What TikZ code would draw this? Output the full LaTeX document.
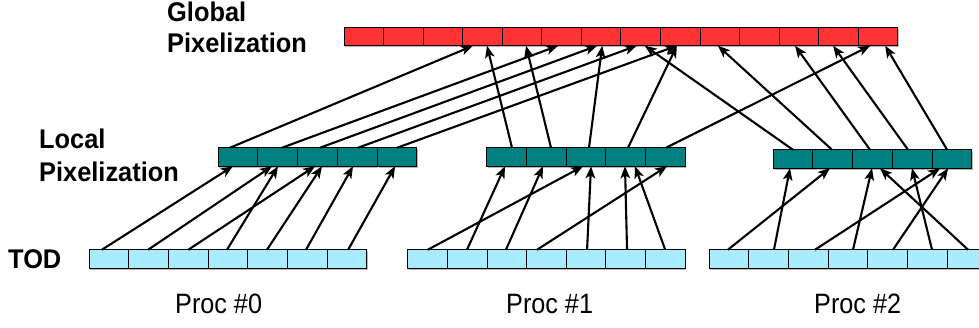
\documentclass[tikz,border=0pt]{standalone}
\usepackage{fontspec}
\setmainfont{Liberation Sans}
\newfontfamily\labfont[FakeStretch=0.94]{Liberation Sans}
\newfontfamily\procfont[FakeStretch=0.9]{Liberation Sans}
\usetikzlibrary{arrows.meta,shadows}

\definecolor{globred}{RGB}{255,51,51}
\definecolor{locteal}{RGB}{0,128,128}
\definecolor{todblue}{RGB}{170,236,255}

\tikzset{
  cellbase/.style={draw=black, line width=1pt, minimum height=18.5pt,
    inner sep=0pt, outer sep=0pt,
    drop shadow={shadow xshift=1.3pt, shadow yshift=-1.3pt, fill=gray!55, opacity=1}},
  gcell/.style={cellbase, fill=globred, minimum width=39.57pt},
  lcell/.style={cellbase, fill=locteal, minimum width=39.7pt},
  tcell/.style={cellbase, fill=todblue, minimum width=39.7pt},
  arr/.style={-{Stealth[length=12pt,width=9.5pt,inset=3pt]}, line width=2.1pt},
  boldlabel/.style={anchor=base west, inner sep=0pt,
    font=\labfont\bfseries\fontsize{27}{31}\selectfont},
  proclabel/.style={anchor=base west, inner sep=0pt,
    font=\procfont\fontsize{28}{31}\selectfont}
}

\begin{document}
\begin{tikzpicture}[x=1pt,y=-1pt]
\clip (0,0) rectangle (979,327);

% global pixel map
\foreach \i in {1,...,14}
  \node[gcell] (g\i) at ({344+39.57*(\i-0.5)},36.5) {};

% local pixel maps
\foreach \i in {1,...,5}
  \node[lcell] (la\i) at ({218+39.8*(\i-0.5)},157) {};
\foreach \i in {1,...,5}
  \node[lcell] (lb\i) at ({487+39.6*(\i-0.5)},157) {};
\foreach \i in {1,...,5}
  \node[lcell] (lc\i) at ({773+39.8*(\i-0.5)},159) {};

% time-ordered data
\foreach \i in {1,...,7}
  \node[tcell] (ta\i) at ({89+39.71*(\i-0.5)},259) {};
\foreach \i in {1,...,7}
  \node[tcell] (tb\i) at ({408+39.57*(\i-0.5)},259) {};
\foreach \i in {1,...,7}
  \node[tcell] (tc\i) at ({709+39.71*(\i-0.5)},259) {};

% labels
\node[boldlabel] (glab1) at (167,21.5) {Global};
\node[boldlabel] (glab2) at (167,52.5) {Pixelization};
\node[boldlabel] (llab1) at (39,148.5) {Local};
\node[boldlabel] (llab2) at (39,181) {Pixelization};
\node[boldlabel] (tlab) at (8,268) {TOD};
\node[proclabel] (p0) at (175,313) {Proc \#0};
\node[proclabel] (p1) at (506,313) {Proc \#1};
\node[proclabel] (p2) at (814,313) {Proc \#2};

% TOD -> local maps
\foreach \a/\da/\b/\db in {
  ta1/-7/la1/-5, ta2/-0.5/la2/-5.7, ta3/0/la3/-2.5, ta4/-1/la2/0.3,
  ta5/-0.7/la3/4.5, ta6/-1.4/la4/-4.3, ta7/1/la5/-2,
  tb1/0/lb3/-3, tb2/-0.4/lb1/-1.8, tb3/-1/lb2/-3.4, tb4/-9.5/lb5/1.8,
  tb5/1/lb3/5, tb6/1.4/lb4/-0.6, tb7/0/lb4/9.4,
  tc1/-1/lc2/-2.7, tc2/5.4/lc1/-2.9, tc3/6.7/lc5/-12, tc4/5/lc3/-0.5,
  tc5/5.3/lc5/-4, tc6/4.6/lc4/-0.3, tc7/1/lc3/7.5}
  \draw[arr] ([xshift=\da pt]\a.north) -- ([xshift=\db pt]\b.south);

% local maps -> global map
\foreach \a/\da/\b/\db in {
  la1/-8/g4/-9.5, la2/4.3/g6/-3.5, la3/2.5/g7/-4, la4/0.7/g8/-4, la5/0/g9/-3.5,
  lb1/5.2/g4/4.5, lb2/4.6/g5/4, lb3/3/g7/1, lb4/2.4/g9/-3.5, lb5/0.8/g14/-8,
  lc1/0/g8/4, lc2/-0.7/g10/-2, lc3/-2.5/g12/-4, lc4/-4.3/g13/-5.5, lc5/-5/g14/7}
  \draw[arr] ([xshift=\da pt]\a.north) -- ([xshift=\db pt]\b.south);
\end{tikzpicture}
\end{document}
